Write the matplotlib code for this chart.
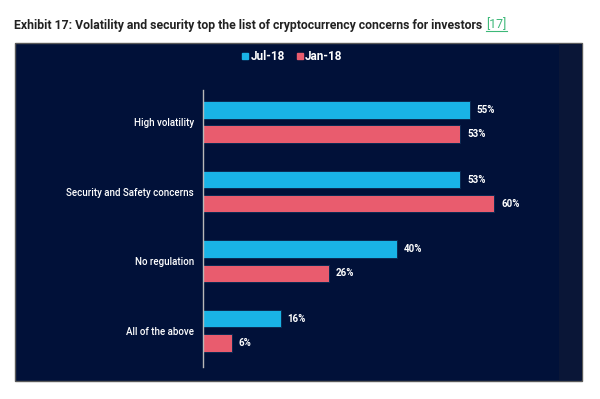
import matplotlib
matplotlib.use("Agg")
import matplotlib.pyplot as plt
from matplotlib.patches import Rectangle
from matplotlib.lines import Line2D
import numpy as np

plt.rcParams['font.family'] = ['Roboto', 'DejaVu Sans']

categories = ['High volatility', 'Security and Safety concerns', 'No regulation', 'All of the above']
jul18 = [55, 53, 40, 16]
jan18 = [53, 60, 26, 6]
series_names = ['Jul-18', 'Jan-18']

blue = '#19b3e6'
red = '#e95c6e'
navy = '#011139'

W, H = 600, 399
fig = plt.figure(figsize=(6, 3.99), dpi=100)
fig.patch.set_facecolor('white')

# dark panel behind the chart
fig.patches.append(Rectangle((15/W, 1-381/H), 567/W, 338/H, transform=fig.transFigure,
                             facecolor=navy, edgecolor='#5a5a5a', lw=1.0, zorder=-2))
fig.patches.append(Rectangle((559/W, 1-380/H), 22.5/W, 336/H, transform=fig.transFigure,
                             facecolor='#0a1637', edgecolor='none', zorder=-1))

ax = fig.add_axes([203/W, 1-367/H, 369/W, 277/H])
ax.set_zorder(2)
ax.set_facecolor('none')
y = np.arange(len(categories))
h = 0.25
off = 0.173
b1 = ax.barh(y - off, jul18, height=h, color=blue, edgecolor='#0b2a52', lw=0.7)
b2 = ax.barh(y + off, jan18, height=h, color=red, edgecolor='#0b2a52', lw=0.7)
for bars, vals in [(b1, jul18), (b2, jan18)]:
    for bar, v in zip(bars, vals):
        ax.text(v + 1.4, bar.get_y() + bar.get_height()/2, '%d%%' % v, color='white',
                fontsize=7, fontweight='bold', va='center', ha='left')

ax.set_xlim(0, 76)
ax.set_ylim(3.52, -0.46)
ax.set_yticks(y)
ax.set_yticklabels(categories, color='white', fontsize=7, fontweight='medium')
ax.tick_params(axis='y', length=0, pad=6.5)
ax.set_xticks([])
for s in ['top', 'right', 'bottom']:
    ax.spines[s].set_visible(False)
ax.spines['left'].set_color('#b8b8b8')
ax.spines['left'].set_linewidth(1.0)

handles = [Line2D([], [], marker='s', ls='none', color=blue, markersize=4.5),
           Line2D([], [], marker='s', ls='none', color=red, markersize=4.5)]
leg = fig.legend(handles, series_names, loc='center', bbox_to_anchor=(292/W, 1-57/H), ncol=2,
                 frameon=False, fontsize=8.5, handletextpad=0.1, columnspacing=0.9,
                 handlelength=0.7)
for t in leg.get_texts():
    t.set_color('white')
    t.set_fontweight('bold')

title = fig.text(14/W, 1-25/H, 'Exhibit 17: Volatility and security top the list of cryptocurrency concerns for investors',
                 fontsize=8.8, fontweight='bold', color='#222222', va='center', ha='left')
fig.canvas.draw()
bb = title.get_window_extent().transformed(fig.transFigure.inverted())
ref = fig.text(bb.x1 + 4/W, 1-25/H, '[17]', fontsize=8.8, color='#3cb878', va='center', ha='left')
fig.canvas.draw()
rb = ref.get_window_extent().transformed(fig.transFigure.inverted())
fig.add_artist(Line2D([rb.x0, rb.x1], [rb.y0 + 0.5/H, rb.y0 + 0.5/H], color='#3cb878', lw=0.8,
                      transform=fig.transFigure))

fig.savefig('out.png', dpi=100)
